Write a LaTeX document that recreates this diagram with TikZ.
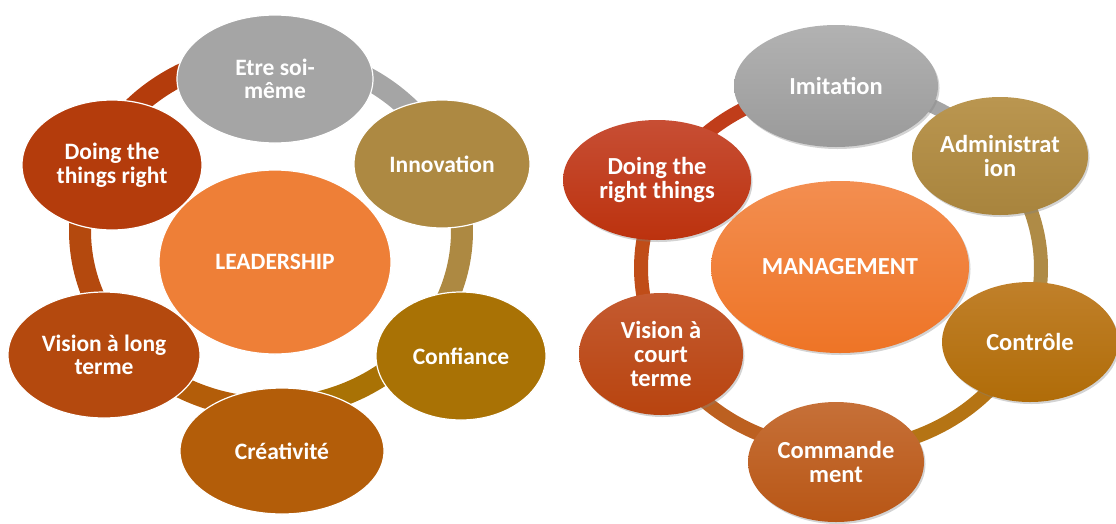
\documentclass[tikz,border=0pt]{standalone}
\usepackage{fontspec}
\setmainfont{Carlito}
\usetikzlibrary{shapes.geometric,shadows}
\definecolor{lgray}{HTML}{A5A5A5}
\definecolor{linno}{HTML}{AD8942}
\definecolor{lconf}{HTML}{A97205}
\definecolor{lcrea}{HTML}{B35D09}
\definecolor{lvis}{HTML}{B4490E}
\definecolor{ldoing}{HTML}{B43C0C}
\definecolor{lcenter}{HTML}{EE7F37}
\definecolor{rgrayT}{HTML}{B2B2B2}\definecolor{rgrayB}{HTML}{9A9A9A}
\definecolor{radmT}{HTML}{BA9650}\definecolor{radmB}{HTML}{A8843D}
\definecolor{rconT}{HTML}{C0802A}\definecolor{rconB}{HTML}{B06C08}
\definecolor{rcomT}{HTML}{C67038}\definecolor{rcomB}{HTML}{B85615}
\definecolor{rvisT}{HTML}{C45A30}\definecolor{rvisB}{HTML}{B8440F}
\definecolor{rdoT}{HTML}{C74E34}\definecolor{rdoB}{HTML}{BC320E}
\definecolor{rmanT}{HTML}{F38E50}\definecolor{rmanB}{HTML}{EE7426}
\definecolor{rbgray}{HTML}{A5A5A5}
\definecolor{rbadm}{HTML}{AF8B46}
\definecolor{rbcon}{HTML}{B57414}
\definecolor{rbcom}{HTML}{BC6020}
\definecolor{rbvis}{HTML}{C04D18}
\definecolor{rbdo}{HTML}{C03D1A}
\tikzset{
  lnode/.style={ellipse, draw=white, line width=1.2pt, inner sep=0pt, align=center,
    text=white, font=\bfseries\fontsize{23.5}{23.5}\selectfont},
  rnode/.style={ellipse, draw=none, inner sep=0pt, align=center,
    text=white, font=\bfseries\fontsize{24.5}{24}\selectfont,
    drop shadow={opacity=0.35, shadow xshift=1.5pt, shadow yshift=-2pt}},
  lband/.style={line width=22pt},
  rband/.style={line width=14pt},
}
\begin{document}
\begin{tikzpicture}[x={(1pt,0)}, y={(0,-1pt)}]
\useasboundingbox (0,0) rectangle (1116,523);
% ---------- left ring ----------
\draw[lband, lgray]  plot[domain=-89:-23, samples=40] ({271+191*cos(\x)},{231+177*sin(\x)});
\draw[lband, linno]  plot[domain=-23:35, samples=40] ({271+191*cos(\x)},{231+177*sin(\x)});
\draw[lband, lconf]  plot[domain=35:87, samples=40] ({271+191*cos(\x)},{231+177*sin(\x)});
\draw[lband, lcrea]  plot[domain=87:141, samples=40] ({271+191*cos(\x)},{231+177*sin(\x)});
\draw[lband, lvis]   plot[domain=141:204, samples=40] ({271+191*cos(\x)},{231+177*sin(\x)});
\draw[lband, ldoing] plot[domain=204:271, samples=40] ({271+191*cos(\x)},{231+177*sin(\x)});
% ---------- left nodes ----------
\node[lnode, fill=lcenter, minimum width=232pt, minimum height=184pt] (lead) at (275,262) {LEADERSHIP};
\node[lnode, fill=lgray, minimum width=196pt, minimum height=128pt] (etre) at (275,79) {Etre soi-\\même};
\node[lnode, fill=linno, minimum width=176pt, minimum height=128pt] (inno) at (442,164) {Innovation};
\node[lnode, fill=lconf, minimum width=170pt, minimum height=128pt] (conf) at (461,356) {Confiance};
\node[lnode, fill=lcrea, minimum width=204pt, minimum height=126pt] (crea) at (282,451) {Créativité};
\node[lnode, fill=lvis, minimum width=192pt, minimum height=126pt] (visl) at (104,355) {Vision à long\\terme};
\node[lnode, fill=ldoing, minimum width=180pt, minimum height=130pt] (doingl) at (112,165) {Doing the\\things right};
% ---------- right ring ----------
\draw[rband, rbgray] plot[domain=-91.5:-37.7, samples=40] ({841+200*cos(\x)},{268+182*sin(\x)});
\draw[rband, rbadm]  plot[domain=-37.7:23, samples=40] ({841+200*cos(\x)},{268+182*sin(\x)});
\draw[rband, rbcon]  plot[domain=23:91.5, samples=40] ({841+200*cos(\x)},{268+182*sin(\x)});
\draw[rband, rbcom]  plot[domain=91.5:152, samples=40] ({841+200*cos(\x)},{268+182*sin(\x)});
\draw[rband, rbvis]  plot[domain=152:207.5, samples=40] ({841+200*cos(\x)},{268+182*sin(\x)});
\draw[rband, rbdo]   plot[domain=207.5:268.5, samples=40] ({841+200*cos(\x)},{268+182*sin(\x)});
% ---------- right nodes ----------
\node[rnode, top color=rmanT, bottom color=rmanB, minimum width=258pt, minimum height=172pt] (man) at (840,267) {MANAGEMENT};
\node[rnode, top color=rgrayT, bottom color=rgrayB, minimum width=204pt, minimum height=122pt] (imit) at (836,86) {Imitation};
\node[rnode, top color=radmT, bottom color=radmB, minimum width=176pt, minimum height=118pt] (adm) at (1000,156) {Administrat\\ion};
\node[rnode, top color=rconT, bottom color=rconB, minimum width=176pt, minimum height=120pt] (cont) at (1030,342) {Contrôle};
\node[rnode, top color=rcomT, bottom color=rcomB, minimum width=176pt, minimum height=120pt] (comm) at (836,462) {Commande\\ment};
\node[rnode, top color=rvisT, bottom color=rvisB, minimum width=164pt, minimum height=122pt] (visr) at (661,354) {Vision à\\court\\terme};
\node[rnode, top color=rdoT, bottom color=rdoB, minimum width=188pt, minimum height=120pt] (doingr) at (657,180) {Doing the\\right things};
\end{tikzpicture}
\end{document}
